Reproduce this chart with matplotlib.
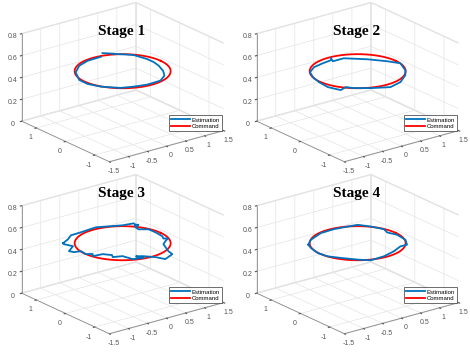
import numpy as np
import matplotlib
matplotlib.use("Agg")
import matplotlib.pyplot as plt
from mpl_toolkits.mplot3d import proj3d

# command trajectory (circle in the horizontal plane)
cmd_radius = 1.0
cmd_height = 0.5

# estimated trajectories
est1_x = [0.313, 0.420, 0.524, 0.650, 0.761, 0.838, 0.840, 0.791, 0.680, 0.530, 0.287,
          -0.074, -0.365, -0.630, -0.912, -1.034, -1.030, -0.819, -0.523, -0.207, 0.154]
est1_y = [1.097, 0.990, 0.862, 0.740, 0.607, 0.253, 0.030, -0.204, -0.500, -0.738, -0.918,
          -0.935, -0.860, -0.752, -0.440, -0.147, 0.144, 0.540, 0.805, 0.930, 0.947]
est1_z = [0.5] * len(est1_x)

est2_x = [0.019, -0.056, 0.232, 0.590, 0.847, 0.990, 0.823, 0.646, 0.316, -0.026,
          -0.391, -0.670, -0.765, -0.954, -1.060, -1.030, -0.952, -0.823, -0.580,
          -0.291, -0.053]
est2_y = [0.941, 0.777, 0.778, 0.429, 0.084, -0.172, -0.559, -0.790, -1.050, -1.156,
          -0.950, -0.735, -0.589, -0.665, -0.362, -0.017, 0.290, 0.559, 0.740,
          0.812, 0.848]
est2_z = [0.5] * len(est2_x)

est3_x = [-0.985, -0.761, -0.570, -0.300, 0.125, 0.639, 0.891, 0.850, 0.920, 0.860,
          0.781, 0.760, 0.924, 0.932, 0.905, 0.840, 0.920, 0.777, 0.638, 0.471, 0.431,
          0.333, 0.045, -0.134, -0.250, -0.180, -0.404, -0.462, -0.661, -0.600, -0.718,
          -0.954, -0.880, -0.997, -0.974, -1.124, -1.171, -0.928, -1.004, -0.985]
est3_y = [0.756, 0.878, 1.025, 1.038, 1.080, 0.833, 0.786, 0.620, 0.660, 0.700,
          0.576, 0.445, 0.319, 0.092, -0.180, -0.300, -0.350, -0.449, -0.563, -0.950,
          -1.138, -1.027, -1.063, -0.853, -0.780, -0.950, -0.866, -0.601, -0.521, -0.420,
          -0.256, -0.223, -0.120, -0.042, 0.160, 0.202, 0.311, 0.491, 0.698, 0.756]
est3_z = [0.5] * 21 + [0.45] + [0.5] * 18

est4_x = [-0.869, -0.648, -0.245, 0.115, 0.657, 0.810, 0.936, 0.872, 0.954, 0.912,
          0.763, 0.592, 0.305, -0.037, -0.398, -0.586, -0.805, -0.966, -1.009,
          -0.943, -0.869]
est4_y = [0.558, 0.755, 0.938, 0.956, 0.856, 0.613, 0.325, 0.125, -0.108, -0.443,
          -0.696, -0.690, -0.837, -0.943, -0.959, -0.763, -0.470, -0.229, 0.055,
          0.371, 0.558]
est4_z = [0.5] * len(est4_x)

stages = ["Stage 1", "Stage 2", "Stage 3", "Stage 4"]
estimates = [(est1_x, est1_y, est1_z), (est2_x, est2_y, est2_z),
             (est3_x, est3_y, est3_z), (est4_x, est4_y, est4_z)]

xticks = [-1.5, -1, -0.5, 0, 0.5, 1, 1.5]
yticks = [-1, 0, 1]
zticks = [0, 0.2, 0.4, 0.6, 0.8]

W, H = 470, 354
plt.rcParams['font.family'] = ['Liberation Sans', 'DejaVu Sans']
fig = plt.figure(figsize=(W / 100, H / 100), dpi=100)

# where the box corners sit in the picture (pixels from top-left), per panel
offsets = [(0, 0), (235, 0), (0, 172), (235, 172)]
box_front = (110, 162.7)
box_right = (223, 130.5)
box_left = (21.7, 120.7)
box_top = (21.7, 33.3)

ang = np.linspace(0, 2 * np.pi, 300)

for ii, (title, est) in enumerate(zip(stages, estimates)):
    ox, oy = offsets[ii]
    ax = fig.add_axes([(ox + 20) / W, 1 - (oy + 200) / H, 200 / W, 200 / H],
                      projection='3d', proj_type='ortho')
    ax.patch.set_alpha(0)
    ax.computed_zorder = False
    ax.view_init(elev=20.8, azim=-127.5)
    ax.set_box_aspect((1, 1, 0.65))

    l2, = ax.plot(cmd_radius * np.cos(ang), cmd_radius * np.sin(ang),
                  np.full(ang.size, cmd_height), color='#FF0000', lw=1.3, zorder=3)
    l1, = ax.plot(est[0], est[1], est[2], color='#0072BD', lw=1.3, zorder=4)

    ax.set_xlim(-1.5, 1.5)
    ax.set_ylim(-1.5, 1.5)
    ax.set_zlim(0, 0.8)
    ax.set_xticks(xticks)
    ax.set_xticklabels([f"{t:g}" for t in xticks])
    ax.set_yticks(yticks)
    ax.set_yticklabels([f"{t:g}" for t in yticks])
    ax.set_zticks(zticks)
    ax.set_zticklabels([f"{t:g}" for t in zticks])

    for axis in (ax.xaxis, ax.yaxis, ax.zaxis):
        axis.set_pane_color((1, 1, 1, 1))
        axis.pane.set_edgecolor('#e3e3e3')
        axis.line.set_color('#8c8c8c')
        axis.line.set_linewidth(0.6)
        axis._axinfo['grid'].update(color='#e4e4e4', linewidth=0.5)
        axis._axinfo['tick'].update(inward_factor=0.15, outward_factor=0.0)
    ax.tick_params(labelsize=5, colors='#555555', width=0.5)
    ax.tick_params(axis='x', pad=-4)
    ax.tick_params(axis='y', pad=-3.5)
    ax.tick_params(axis='z', pad=-4.5)

    ax.legend([l1, l2], ["Estimation", "Command"], fontsize=4.3, handlelength=3.2,
              loc='lower right', bbox_to_anchor=((ox + 222) / W, 1 - (oy + 131) / H),
              bbox_transform=fig.transFigure, frameon=True, fancybox=False,
              edgecolor='#333333', framealpha=1, borderpad=0.35, labelspacing=0.2,
              handletextpad=0.3, borderaxespad=0)
    leg = ax.get_legend()
    leg.get_frame().set_linewidth(0.5)
    leg.set_zorder(10)

    # move the axes so the box corners land where they are in the picture
    fig.canvas.draw()
    M = ax.get_proj()
    cx = np.array([-1.5, 1.5, -1.5, -1.5])
    cy = np.array([-1.5, -1.5, 1.5, 1.5])
    cz = np.array([0, 0, 0, 0.8])
    px, py, _ = proj3d.proj_transform(cx, cy, cz, M)
    disp = ax.transData.transform(np.column_stack([px, py]))
    pos = ax.get_position(original=False)
    s0 = pos.width * W
    c0 = np.array([(pos.x0 + pos.width / 2) * W, (pos.y0 + pos.height / 2) * H])
    u = (disp - c0) / s0
    tgt = np.array([box_front, box_right, box_left, box_top], float)
    tgt[:, 0] += ox
    tgt[:, 1] = H - (tgt[:, 1] + oy)
    A = np.zeros((8, 3))
    b = np.zeros(8)
    A[0::2, 0] = u[:, 0]
    A[0::2, 1] = 1
    A[1::2, 0] = u[:, 1]
    A[1::2, 2] = 1
    b[0::2] = tgt[:, 0]
    b[1::2] = tgt[:, 1]
    s, cxp, cyp = np.linalg.lstsq(A, b, rcond=None)[0]
    ax.set_position([(cxp - s / 2) / W, (cyp - s / 2) / H, s / W, s / H])

    tx = ox + 122
    ty = oy + 35 if ii < 2 else oy + 25
    fig.text(tx / W, 1 - ty / H, title, ha='center', va='baseline',
             fontsize=11, fontweight='bold', family='Liberation Serif')

fig.savefig('out.png', dpi=100)
